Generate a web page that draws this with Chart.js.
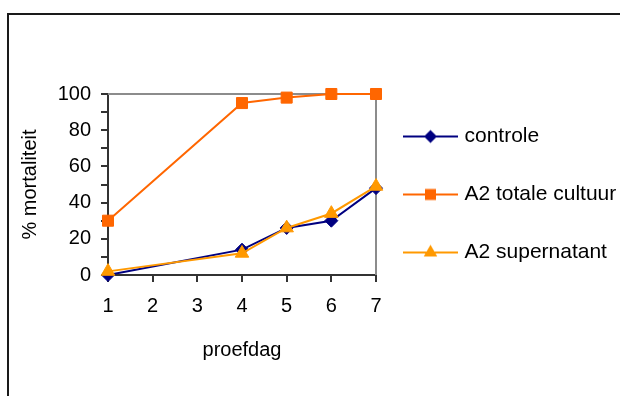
<!DOCTYPE html>
<html>
<head>
<meta charset="utf-8">
<script src="https://cdn.jsdelivr.net/npm/chart.js@4.4.0/dist/chart.umd.min.js"></script>
<style>
  html,body{margin:0;padding:0;background:#fff;overflow:hidden;}
  .frame{position:absolute;left:7px;top:13px;width:800px;height:600px;border:2px solid #1a1a1a;}
  #chart{position:absolute;left:0;top:0;}
</style>
</head>
<body>
<div class="frame"></div>
<canvas id="chart" width="620" height="396"></canvas>
<script>
// proefdagen en mortaliteit (%) per reeks
const days          = [1, 4, 5, 6, 7];
const controle      = [0, 14, 26, 30, 48];
const totaleCultuur = [30, 95, 98, 100, 100];
const supernatant   = [2, 12, 26, 34, 49];

const seriesNames = ['controle', 'A2 totale cultuur', 'A2 supernatant'];
const dayRange = [1, 7];
const yRange = [0, 100];
const xTitle = 'proefdag';
const yTitle = '% mortaliteit';

const FONT = '"Liberation Sans", Arial, sans-serif';
const pts = vals => vals.map((v,i)=>({x:days[i], y:v}));

// legenda-symbool: lijntje met marker in het midden
function legendSymbol(color, style, r){
  const c = document.createElement('canvas');
  c.width = 55; c.height = 18;
  const g = c.getContext('2d');
  g.strokeStyle = color; g.fillStyle = color; g.lineWidth = 2;
  g.beginPath(); g.moveTo(0,9); g.lineTo(55,9); g.stroke();
  const cx = 27.5, cy = 9;
  g.beginPath();
  if(style==='rectRot'){
    g.moveTo(cx-r,cy); g.lineTo(cx,cy-r); g.lineTo(cx+r,cy); g.lineTo(cx,cy+r);
  } else if(style==='rect'){
    const s = r*Math.SQRT1_2; g.rect(cx-s,cy-s,2*s,2*s);
  } else {
    const a = 2*Math.PI/3;
    g.moveTo(cx, cy-r); g.lineTo(cx+Math.sin(a)*r, cy-Math.cos(a)*r); g.lineTo(cx-Math.sin(a)*r, cy-Math.cos(a)*r);
  }
  g.closePath(); g.fill();
  return c;
}

const styles = [
  {color:'#000080', point:'rectRot', r:6.5, order:3},
  {color:'#FF6600', point:'rect',    r:7.8, order:2},
  {color:'#FF9900', point:'triangle',r:7.8, order:1},
];
const symbols = styles.map(s=>legendSymbol(s.color, s.point, s.r));

const datasets = [controle, totaleCultuur, supernatant].map((vals,i)=>({
  label: seriesNames[i],
  data: pts(vals),
  borderColor: styles[i].color,
  backgroundColor: styles[i].color,
  pointBackgroundColor: styles[i].color,
  pointBorderColor: styles[i].color,
  pointStyle: styles[i].point,
  pointRadius: styles[i].r,
  pointBorderWidth: 1,
  borderWidth: 2,
  tension: 0,
  clip: false,
  order: styles[i].order,
}));

// grijze rand boven en rechts van het plotgebied
const plotFrame = {
  id: 'plotFrame',
  beforeDatasetsDraw(chart){
    const {ctx, chartArea:a} = chart;
    ctx.save();
    ctx.strokeStyle = '#8c8c8c'; ctx.lineWidth = 2;
    ctx.beginPath(); ctx.moveTo(a.left, a.top); ctx.lineTo(a.right, a.top); ctx.lineTo(a.right, a.bottom);
    ctx.stroke(); ctx.restore();
  }
};

// legenda rechts naast de grafiek plaatsen
const legendPlace = {
  id: 'legendPlace',
  afterLayout(chart){
    const lg = chart.legend;
    if(!lg) return;
    lg.left = 370; lg.right = 620;
    lg.top = 89; lg.bottom = 396;
  }
};

Chart.defaults.font.family = FONT;
Chart.defaults.color = '#000';

new Chart(document.getElementById('chart').getContext('2d'), {
  type: 'line',
  data: {datasets},
  options: {
    responsive: false,
    animation: false,
    devicePixelRatio: 1,
    layout: {padding: {left: 0, top: 94, right: 244, bottom: 0}},
    plugins: {
      tooltip: {enabled: false},
      legend: {
        position: 'chartArea',
        align: 'start',
        labels: {
          font: {family: FONT, size: 21},
          color: '#000',
          padding: 37,
          usePointStyle: true,
          pointStyleWidth: 47,
          sort: (a,b)=>a.datasetIndex-b.datasetIndex,
          generateLabels(chart){
            const items = Chart.defaults.plugins.legend.labels.generateLabels(chart);
            items.forEach(it=>{ it.pointStyle = symbols[it.datasetIndex]; });
            return items;
          }
        }
      }
    },
    scales: {
      x: {
        type: 'linear',
        min: dayRange[0], max: dayRange[1],
        afterFit: s=>{ s.height = 121; },
        grid: {drawOnChartArea: false, drawTicks: true, tickLength: 7, color: '#333', lineWidth: 2},
        border: {color: '#333', width: 2},
        ticks: {stepSize: 1, padding: 12, font: {size: 20}, color: '#000'},
        title: {display: true, text: xTitle, font: {size: 20}, color: '#000', padding: {top: 0, bottom: 34}},
      },
      y: {
        min: yRange[0], max: yRange[1],
        afterFit: s=>{ s.width = 108; },
        grid: {drawOnChartArea: false, drawTicks: true, tickLength: 7, color: '#333', lineWidth: 2},
        border: {color: '#333', width: 2},
        ticks: {stepSize: 10, autoSkip: false, padding: 10, font: {size: 20}, color: '#000',
          callback: v => v % 20 === 0 ? v : ''},
        title: {display: true, text: yTitle, font: {size: 20}, color: '#000', padding: {top: 18, bottom: 0}},
      }
    }
  },
  plugins: [plotFrame, legendPlace]
});
</script>
</body>
</html>
